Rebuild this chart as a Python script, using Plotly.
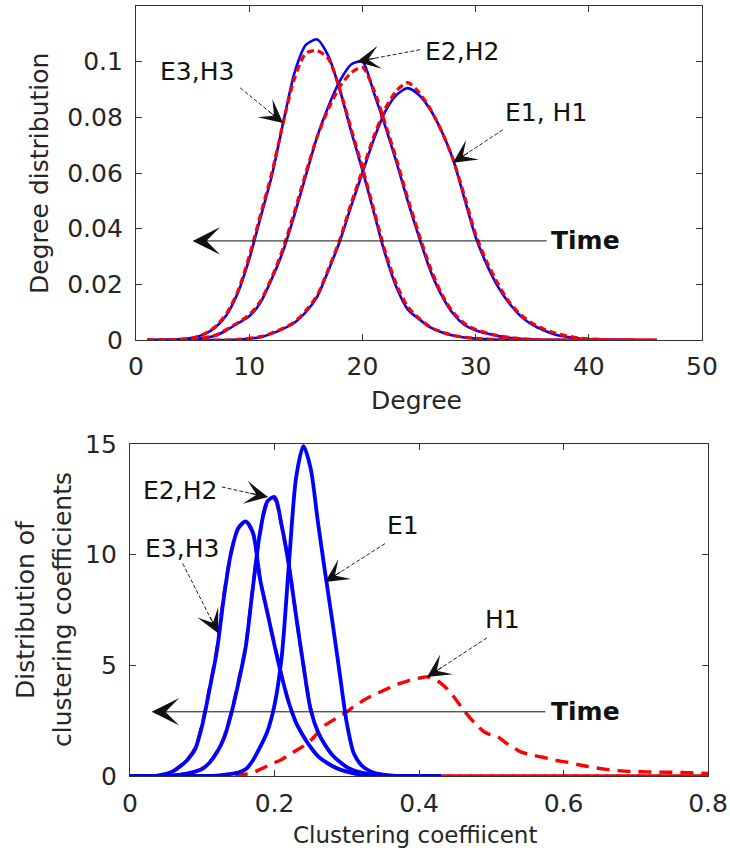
import plotly.graph_objects as go

# ---------------- data: top panel (degree distribution) ----------------
degree_E = list(range(1, 45))
degree_H = list(range(1, 47))

E3_deg = [0, 0, 0.0001, 0.0003, 0.0008, 0.002, 0.0045, 0.009, 0.017, 0.029,
          0.044, 0.059, 0.078, 0.096, 0.106, 0.108, 0.102, 0.090, 0.075, 0.061,
          0.046, 0.031, 0.019, 0.011, 0.0075, 0.0045, 0.0028, 0.0016, 0.0009, 0.0005,
          0.0003, 0.0001, 0, 0, 0, 0, 0, 0, 0, 0,
          0, 0, 0, 0]
E2_deg = [0, 0, 0, 0.0001, 0.0003, 0.0007, 0.0015, 0.0035, 0.006, 0.0085,
          0.0135, 0.022, 0.032, 0.045, 0.059, 0.073, 0.084, 0.093, 0.099, 0.100,
          0.089, 0.077, 0.064, 0.050, 0.037, 0.025, 0.016, 0.0095, 0.0055, 0.0035,
          0.0023, 0.0014, 0.0008, 0.0004, 0.0002, 0, 0, 0, 0, 0,
          0, 0, 0, 0]
E1_deg = [0, 0, 0, 0, 0, 0, 0, 0, 0.0002, 0.0005,
          0.001, 0.0023, 0.004, 0.0062, 0.010, 0.0155, 0.025, 0.0354, 0.048, 0.060,
          0.072, 0.082, 0.088, 0.0905, 0.088, 0.0827, 0.075, 0.065, 0.051, 0.037,
          0.027, 0.019, 0.013, 0.0085, 0.0055, 0.0035, 0.002, 0.0012, 0.0006, 0.0003,
          0.0001, 0, 0, 0]

H3_deg = [0, 0, 0.0001, 0.0002, 0.0007, 0.0021, 0.0048, 0.0095, 0.0175, 0.030,
          0.045, 0.060, 0.078, 0.094, 0.103, 0.104, 0.101, 0.090, 0.076, 0.062,
          0.047, 0.032, 0.020, 0.012, 0.0078, 0.0046, 0.0029, 0.0017, 0.0010, 0.0006,
          0.0003, 0.0001, 0, 0, 0, 0, 0, 0, 0, 0,
          0, 0, 0, 0, 0, 0]
H2_deg = [0, 0, 0, 0.0001, 0.0003, 0.0008, 0.0017, 0.0038, 0.0062, 0.009,
          0.014, 0.0225, 0.033, 0.046, 0.060, 0.073, 0.083, 0.091, 0.096, 0.098,
          0.090, 0.078, 0.065, 0.051, 0.038, 0.026, 0.0165, 0.010, 0.006, 0.0038,
          0.0025, 0.0015, 0.0009, 0.0005, 0.0002, 0, 0, 0, 0, 0,
          0, 0, 0, 0, 0, 0]
H1_deg = [0, 0, 0, 0, 0, 0, 0, 0, 0.0002, 0.0006,
          0.0012, 0.0025, 0.0042, 0.0065, 0.0105, 0.016, 0.0255, 0.036, 0.049, 0.061,
          0.073, 0.083, 0.0895, 0.0925, 0.089, 0.083, 0.075, 0.065, 0.052, 0.038,
          0.028, 0.020, 0.0135, 0.009, 0.006, 0.004, 0.0025, 0.0015, 0.0008, 0.0004,
          0.0002, 0, 0, 0, 0, 0]

# ---------------- data: bottom panel (clustering coefficient) ----------------
cc_E = [0.00, 0.01, 0.02, 0.03, 0.04, 0.05, 0.06, 0.07, 0.08, 0.09,
        0.10, 0.11, 0.12, 0.13, 0.14, 0.15, 0.16, 0.17, 0.18, 0.19,
        0.20, 0.21, 0.22, 0.23, 0.24, 0.25, 0.26, 0.27, 0.28, 0.29,
        0.30, 0.31, 0.32, 0.33, 0.34, 0.35, 0.36, 0.37, 0.38, 0.39,
        0.40, 0.41, 0.42, 0.43]
E3_cc = [0, 0, 0, 0, 0.03, 0.1, 0.22, 0.45, 0.75, 1.2,
         2.3, 3.9, 5.6, 8.1, 10.1, 11.2, 11.5, 11.0, 8.9, 7.4,
         5.9, 4.5, 3.3, 2.4, 1.8, 1.3, 0.9, 0.65, 0.45, 0.3,
         0.2, 0.12, 0.07, 0.04, 0.02, 0, 0, 0, 0, 0,
         0, 0, 0, 0]
E2_cc = [0, 0, 0, 0, 0, 0, 0.03, 0.06, 0.12, 0.2,
         0.32, 0.6, 1.05, 1.7, 2.8, 4.2, 5.8, 8.5, 11.0, 12.4,
         12.6, 11.3, 9.5, 7.2, 5.0, 3.0, 2.0, 1.4, 0.95, 0.65,
         0.4, 0.25, 0.15, 0.08, 0.04, 0.02, 0, 0, 0, 0,
         0, 0, 0, 0]
E1_cc = [0, 0, 0, 0, 0, 0, 0, 0, 0, 0,
         0, 0, 0.02, 0.05, 0.1, 0.15, 0.3, 0.7, 1.3, 2.0,
         3.2, 5.4, 9.6, 13.5, 14.9, 13.9, 11.5, 9.2, 7.0, 4.7,
         2.4, 1.0, 0.5, 0.25, 0.12, 0.06, 0.03, 0, 0, 0,
         0, 0, 0, 0]

cc_H23 = [0.00, 0.01, 0.02, 0.03, 0.04, 0.05, 0.06, 0.07, 0.08, 0.09,
          0.10, 0.11, 0.12, 0.13, 0.14, 0.15, 0.16, 0.17, 0.18, 0.19,
          0.20, 0.21, 0.22, 0.23, 0.24, 0.25, 0.26, 0.27, 0.28, 0.29,
          0.30, 0.31, 0.32, 0.33, 0.34, 0.35, 0.36, 0.45, 0.55, 0.65,
          0.80]
H3_cc = [0, 0, 0, 0, 0.03, 0.1, 0.23, 0.47, 0.78, 1.25,
         2.35, 3.95, 5.7, 8.2, 10.1, 11.2, 11.45, 11.0, 8.9, 7.4,
         5.95, 4.5, 3.3, 2.4, 1.8, 1.3, 0.9, 0.65, 0.45, 0.3,
         0.2, 0.12, 0.07, 0.04, 0.02, 0, 0, 0, 0, 0,
         0]
H2_cc = [0, 0, 0, 0, 0, 0, 0.03, 0.06, 0.12, 0.2,
         0.33, 0.62, 1.08, 1.75, 2.85, 4.25, 5.85, 8.5, 11.0, 12.3,
         12.5, 11.3, 9.5, 7.2, 5.0, 3.05, 2.0, 1.4, 0.95, 0.65,
         0.4, 0.25, 0.15, 0.08, 0.04, 0.02, 0, 0, 0, 0,
         0]

cc_H1 = [0.00, 0.01, 0.02, 0.03, 0.04, 0.05, 0.06, 0.07, 0.08, 0.09,
         0.10, 0.11, 0.12, 0.13, 0.14, 0.15, 0.16, 0.17, 0.18, 0.19,
         0.20, 0.21, 0.22, 0.23, 0.24, 0.25, 0.26, 0.27, 0.28, 0.29,
         0.30, 0.31, 0.32, 0.33, 0.34, 0.35, 0.36, 0.37, 0.38, 0.39,
         0.40, 0.41, 0.42, 0.43, 0.44, 0.45, 0.46, 0.47, 0.48, 0.49,
         0.50, 0.51, 0.52, 0.53, 0.54, 0.55, 0.56, 0.57, 0.58, 0.59,
         0.60, 0.61, 0.62, 0.63, 0.64, 0.65, 0.66, 0.67, 0.68, 0.69,
         0.70, 0.71, 0.72, 0.73, 0.74, 0.75, 0.76, 0.77, 0.78, 0.79,
         0.80]
H1_cc = [0, 0, 0, 0, 0, 0, 0, 0, 0, 0,
         0, 0, 0, 0, 0, 0.03, 0.08, 0.15, 0.3, 0.45,
         0.6, 0.75, 0.95, 1.15, 1.35, 1.6, 1.95, 2.3, 2.5, 2.7,
         2.9, 3.15, 3.35, 3.55, 3.7, 3.85, 4.0, 4.15, 4.25, 4.35,
         4.42, 4.48, 4.4, 4.2, 3.9, 3.5, 3.05, 2.65, 2.3, 2.0,
         1.85, 1.75, 1.5, 1.3, 1.1, 1.0, 0.92, 0.86, 0.78, 0.7,
         0.65, 0.6, 0.52, 0.45, 0.4, 0.34, 0.3, 0.26, 0.23, 0.21,
         0.2, 0.19, 0.18, 0.18, 0.17, 0.17, 0.16, 0.15, 0.14, 0.13,
         0.12]

# tick labels
deg_ticks = [0, 10, 20, 30, 40, 50]
degdist_ticks = [0, 0.02, 0.04, 0.06, 0.08, 0.1]
degdist_labels = ["0", "0.02", "0.04", "0.06", "0.08", "0.1"]
cc_ticks = [0, 0.2, 0.4, 0.6, 0.8]
cc_labels = ["0", "0.2", "0.4", "0.6", "0.8"]
ccdist_ticks = [0, 5, 10, 15]

BLUE = "#0000FF"
RED = "#FF0000"
FONT = "DejaVu Sans"
TXT = "#262626"

fig = go.Figure()

# top: blue solid under red dashed
for ys in (E1_deg, E2_deg, E3_deg):
    fig.add_trace(go.Scatter(x=degree_E, y=ys, mode="lines", xaxis="x", yaxis="y",
                             line=dict(color=BLUE, width=2.6, shape="spline", smoothing=0.7),
                             showlegend=False, hoverinfo="skip"))
for ys in (H1_deg, H2_deg, H3_deg):
    fig.add_trace(go.Scatter(x=degree_H, y=ys, mode="lines", xaxis="x", yaxis="y",
                             line=dict(color=RED, width=3.2, dash="7px,4px", shape="spline", smoothing=0.7),
                             showlegend=False, hoverinfo="skip"))

# bottom: red dashed under blue solid
fig.add_trace(go.Scatter(x=cc_H1, y=H1_cc, mode="lines", xaxis="x2", yaxis="y2",
                         line=dict(color=RED, width=3.4, dash="13px,8px", shape="spline", smoothing=0.8),
                         showlegend=False, hoverinfo="skip"))
for ys in (H2_cc, H3_cc):
    fig.add_trace(go.Scatter(x=cc_H23, y=ys, mode="lines", xaxis="x2", yaxis="y2",
                             line=dict(color=RED, width=3.4, dash="13px,8px", shape="spline", smoothing=0.8),
                             showlegend=False, hoverinfo="skip"))
for ys in (E1_cc, E2_cc, E3_cc):
    fig.add_trace(go.Scatter(x=cc_E, y=ys, mode="lines", xaxis="x2", yaxis="y2",
                             line=dict(color=BLUE, width=3.8, shape="spline", smoothing=0.8),
                             showlegend=False, hoverinfo="skip"))

axis_common = dict(showgrid=False, zeroline=False, showline=True, linecolor="#333333",
                   linewidth=1.2, mirror="ticks", ticks="inside", ticklen=6, tickwidth=1,
                   tickcolor="#333333", tickfont=dict(family=FONT, size=25, color=TXT),
                   automargin=False, fixedrange=True)

W, H = 730, 852
fig.update_layout(
    width=W, height=H, autosize=False,
    margin=dict(l=0, r=0, t=0, b=0),
    paper_bgcolor="white", plot_bgcolor="white",
    xaxis=dict(domain=[136 / W, 702 / W], anchor="y", range=[0, 50],
               tickvals=deg_ticks, ticklabelstandoff=4, **axis_common),
    yaxis=dict(domain=[1 - 340 / H, 1 - 6 / H], anchor="x", range=[0, 0.12],
               tickvals=degdist_ticks, ticktext=degdist_labels, ticklabelstandoff=7, **axis_common),
    xaxis2=dict(domain=[130 / W, 708 / W], anchor="y2", range=[0, 0.8],
                tickvals=cc_ticks, ticktext=cc_labels, ticklabelstandoff=5, **axis_common),
    yaxis2=dict(domain=[1 - 776 / H, 1 - 444 / H], anchor="x2", range=[0, 15],
                tickvals=ccdist_ticks, ticklabelstandoff=7, **axis_common),
)

ann = []
shapes = []

def ptext(text, px, py, size=25, angle=0):
    ann.append(dict(text=text, x=px / W, y=1 - py / H, xref="paper", yref="paper",
                    xanchor="center", yanchor="middle", showarrow=False, textangle=angle,
                    font=dict(family=FONT, size=size, color=TXT)))

# axis titles
ptext("Degree", 416, 400)
ptext("Degree distribution", 40, 174, angle=-90)
ptext("Clustering coeffiicent", 415, 835, size=23)
ptext("Distribution of", 25, 610, angle=-90)
ptext("clustering coefficients", 62, 610, angle=-90)

def label(text, x, y, xr, yr, bold=False):
    ann.append(dict(text=("<b>%s</b>" % text) if bold else text, x=x, y=y, xref=xr, yref=yr,
                    xanchor="center", yanchor="middle",
                    showarrow=False, font=dict(family=FONT, size=25, color="#111111")))

def pointer(tx, ty, ax, ay, xr, yr, dx, dy):
    """thin dotted leader line from the label to the tip, with a barbed arrowhead"""
    shapes.append(dict(type="line", x0=ax, y0=ay, x1=tx, y1=ty, xref=xr, yref=yr,
                       line=dict(color="#222222", width=1, dash="4px,2px")))
    ann.append(dict(text="", x=tx, y=ty, ax=dx, ay=dy, xref=xr, yref=yr,
                    showarrow=True, arrowhead=3, arrowsize=3.9, arrowwidth=1,
                    arrowcolor="#111111", standoff=0, startstandoff=0))

def time_arrow(tx, ty, ax, ay, xr, yr):
    ann.append(dict(text="", x=tx, y=ty, ax=ax, ay=ay, xref=xr, yref=yr, axref=xr, ayref=yr,
                    showarrow=True, arrowhead=3, arrowsize=4.6, arrowwidth=1,
                    arrowcolor="#111111", standoff=0, startstandoff=0))

# top annotations
label("E3,H3", 5.4, 0.0964, "x", "y")
pointer(13.0, 0.078, 9.2, 0.0906, "x", "y", -15.5, -12.6)
label("E2,H2", 28.8, 0.1036, "x", "y")
pointer(19.5, 0.100, 25.1, 0.1043, "x", "y", 19.7, -3.7)
label("E1, H1", 36.2, 0.0817, "x", "y")
pointer(28.0, 0.0637, 32.4, 0.0755, "x", "y", 16.7, -11.0)
time_arrow(5.0, 0.0356, 36.4, 0.0356, "x", "y")
label("Time", 39.75, 0.0356, "x", "y", bold=True)

# bottom annotations
label("E2,H2", 0.069, 12.9, "x2", "y2")
pointer(0.191, 12.6, 0.127, 13.06, "x2", "y2", -19.5, -4.2)
label("E3,H3", 0.072, 10.3, "x2", "y2")
pointer(0.122, 6.45, 0.073, 9.6, "x2", "y2", -8.9, -17.9)
label("E1", 0.378, 11.3, "x2", "y2")
pointer(0.27, 8.77, 0.353, 10.5, "x2", "y2", 16.8, -10.9)
label("H1", 0.516, 7.05, "x2", "y2")
pointer(0.411, 4.47, 0.494, 6.24, "x2", "y2", 16.8, -10.9)
time_arrow(0.03, 2.9, 0.577, 2.9, "x2", "y2")
label("Time", 0.631, 2.9, "x2", "y2", bold=True)

fig.update_layout(annotations=ann, shapes=shapes)
fig.write_html("out.html", config={"displayModeBar": False},
               post_script="document.body.style.margin='0px';")
